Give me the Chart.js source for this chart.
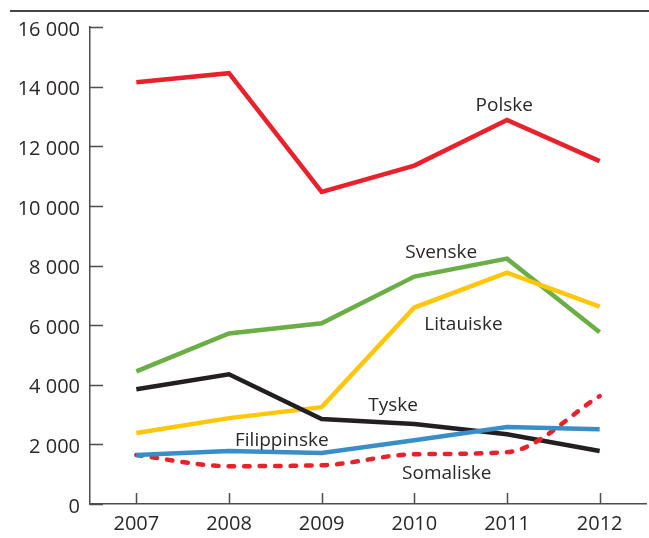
<!DOCTYPE html>
<html>
<head>
<meta charset="utf-8">
<script src="https://cdn.jsdelivr.net/npm/chart.js@4"></script>
<style>
  html, body { margin: 0; padding: 0; background: #fff; }
  #wrap { width: 649px; height: 538px; }
</style>
</head>
<body>
<div id="wrap"><canvas id="diagram"></canvas></div>
<script>
const years = ['2007', '2008', '2009', '2010', '2011', '2012'];
const yTicks = [0, 2000, 4000, 6000, 8000, 10000, 12000, 14000, 16000];

const polske = [14150, 14450, 10470, 11350, 12880, 11500];
const svenske = [4450, 5720, 6060, 7630, 8230, 5760];
const litauiske = [2380, 2880, 3250, 6590, 7760, 6620];
const tyske = [3850, 4350, 2850, 2680, 2340, 1780];
const filippinske = [1640, 1780, 1710, 2140, 2580, 2510];
const somaliske = [1640, 1270, 1300, 1670, 1740, 3620];

// name labels placed in data units: [text, category index, value]
const lineLabels = [
    ['Polske', 3.97, 13360],
    ['Svenske', 3.29, 8440],
    ['Litauiske', 3.53, 6030],
    ['Tyske', 2.77, 3300],
    ['Filippinske', 1.57, 2120],
    ['Somaliske', 3.35, 1010]
];

const textColor = '#2b2728';
const axisColor = '#4d4d4d';

const axisMarks = {
    id: 'axisMarks',
    afterDraw(chart) {
        const c = chart.ctx;
        const area = chart.chartArea;
        const x = chart.scales.x;
        const y = chart.scales.y;
        c.save();
        c.strokeStyle = axisColor;
        c.lineWidth = 1.5;
        c.beginPath();
        yTicks.forEach(v => {
            const py = Math.round(y.getPixelForValue(v)) + 0.5;
            c.moveTo(area.left, py);
            c.lineTo(area.left + 13, py);
        });
        years.forEach((yr, i) => {
            const px = Math.round(x.getPixelForValue(i)) + 0.5;
            c.moveTo(px, area.bottom);
            c.lineTo(px, area.bottom - 11);
        });
        c.stroke();

        // rule along the top
        c.strokeStyle = '#444';
        c.lineWidth = 2;
        c.beginPath();
        c.moveTo(10, 11);
        c.lineTo(chart.width, 11);
        c.stroke();

        c.fillStyle = textColor;
        c.font = '19px "Open Sans"';
        c.textAlign = 'center';
        c.textBaseline = 'middle';
        lineLabels.forEach(([t, i, v]) => {
            c.fillText(t, x.getPixelForValue(i), y.getPixelForValue(v));
        });
        c.restore();
    }
};

function line(data, color, extra) {
    return Object.assign({
        data: data,
        borderColor: color,
        borderWidth: 4.5,
        pointRadius: 0,
        tension: 0,
        fill: false
    }, extra || {});
}

new Chart(document.getElementById('diagram'), {
    type: 'line',
    data: {
        labels: years,
        datasets: [
            line(filippinske, '#3a8ec8'),
            line(somaliske, '#e8212b', {borderDash: [5.5, 10], borderCapStyle: 'round', cubicInterpolationMode: 'monotone'}),
            line(tyske, '#231f20'),
            line(litauiske, '#ffc60b'),
            line(svenske, '#6aaf45'),
            line(polske, '#e8212b')
        ]
    },
    options: {
        responsive: true,
        maintainAspectRatio: false,
        animation: false,
        layout: {padding: {top: 27, right: 3, left: 0, bottom: 0}},
        plugins: {legend: {display: false}, tooltip: {enabled: false}},
        scales: {
            x: {
                offset: true,
                grid: {display: true, drawOnChartArea: false, drawTicks: false},
                border: {color: axisColor, width: 1.5},
                ticks: {color: textColor, font: {family: 'Open Sans', size: 20}, padding: 8, maxRotation: 0},
                afterFit(s) { s.height = 34; }
            },
            y: {
                min: 0,
                max: 16000,
                grid: {display: true, drawOnChartArea: false, drawTicks: false},
                border: {color: axisColor, width: 1.5},
                ticks: {
                    stepSize: 2000,
                    color: textColor,
                    font: {family: 'Open Sans', size: 20},
                    padding: 10,
                    labelOffset: 3,
                    callback: v => String(v).replace(/\B(?=(\d{3})+(?!\d))/g, ' ')
                },
                afterFit(s) { s.width = 90; }
            }
        }
    },
    plugins: [axisMarks]
});
</script>
</body>
</html>
